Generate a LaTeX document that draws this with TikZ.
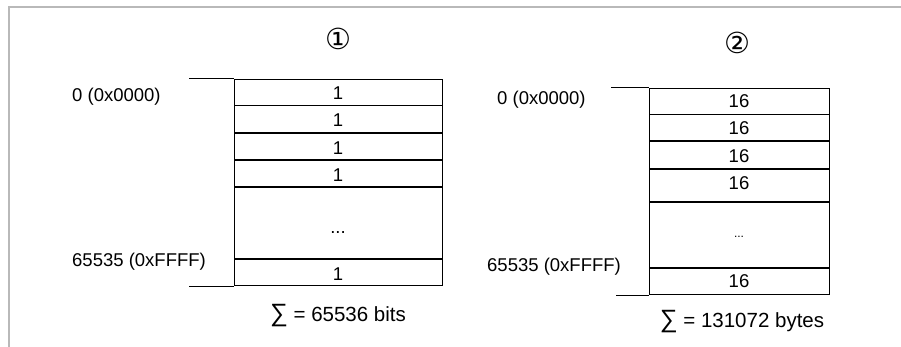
\documentclass[tikz,border=0pt]{standalone}
\usepackage{fontspec}
\setmainfont{Liberation Sans}
\newfontfamily\symfont{DejaVu Sans}
\usepackage{tikz}
\usetikzlibrary{positioning}

\newcommand{\bigsum}{{\fontsize{25}{25}\selectfont ∑}}

\begin{document}
\begin{tikzpicture}[
    x=1pt, y=-1pt,
    font=\fontsize{18.5}{22}\selectfont,
    node distance=0pt,
    frame/.style={draw=gray!55, line width=1.3pt},
    cellA/.style={draw, line width=0.9pt, minimum width=208pt, inner sep=0pt, text height=15pt, text depth=0pt},
    cellB/.style={draw, line width=0.9pt, minimum width=180pt, inner sep=0pt, text height=14pt, text depth=0pt},
    tick/.style={line width=0.9pt},
    addr/.style={anchor=west, inner sep=0pt},
    circnum/.style={font=\fontsize{29}{29}\symfont},
    total/.style={font=\fontsize{20.5}{24}\selectfont}
]
\path[use as bounding box] (0,0) rectangle (901,347);

% outer frame
\draw[frame] (9,347) -- (9,7) -- (901,7);

% table 1 (bits)
\node[circnum] (numA) at (338,39) {①};
\node[cellA, minimum height=26pt] (a1) at (338,92) {1};
\node[cellA, minimum height=27pt, below=of a1] (a2) {1};
\node[cellA, minimum height=26pt, below=of a2] (a3) {1};
\node[cellA, minimum height=26pt, below=of a3] (a4) {1};
\node[cellA, minimum height=71pt, text height=21pt, below=of a4] (a5) {...};
\node[cellA, minimum height=26pt, below=of a5] (a6) {1};
\draw[tick] (a1.north west) -- ++(-45,0);
\draw[tick] (a6.south west) -- ++(-45,0);
\node[addr] (a0lbl) at (72,97) {0 (0x0000)};
\node[addr] (aFlbl) at (72,262) {65535 (0xFFFF)};
\node[total] (sumA) at (338,316) {\bigsum{} = 65536 bits};

% table 2 (bytes)
\node[circnum] (numB) at (737,43) {②};
\node[cellB, minimum height=26pt] (b1) at (739,101) {16};
\node[cellB, minimum height=26pt, below=of b1] (b2) {16};
\node[cellB, minimum height=27pt, below=of b2] (b3) {16};
\node[cellB, minimum height=32pt, text height=8pt, below=of b3] (b4) {16};
\node[cellB, minimum height=65pt, text height=5pt, font=\fontsize{12}{14}\selectfont, below=of b4] (b5) {...};
\node[cellB, minimum height=26pt, text height=12pt, below=of b5] (b6) {16};
\draw[tick] (b1.north west) -- ++(-38,0);
\draw[tick] (b6.south west) -- ++(-33,0);
\node[addr] (b0lbl) at (497,100) {0 (0x0000)};
\node[addr] (bFlbl) at (487,267) {65535 (0xFFFF)};
\node[total] (sumB) at (742,322) {\bigsum{} = 131072 bytes};

\end{tikzpicture}
\end{document}
